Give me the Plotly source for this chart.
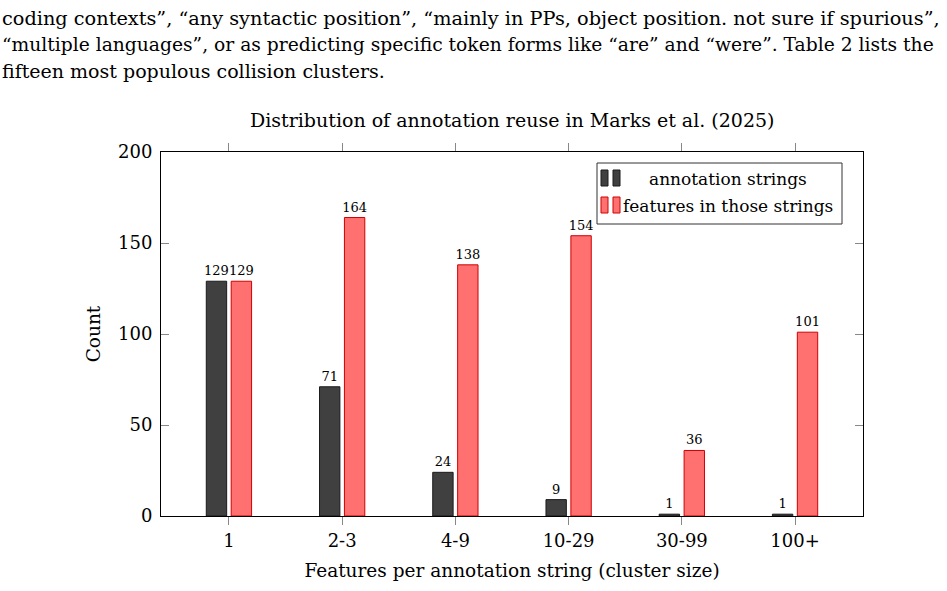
import plotly.graph_objects as go

categories = ["1", "2-3", "4-9", "10-29", "30-99", "100+"]
annotation_strings = [129, 71, 24, 9, 1, 1]
features_in_strings = [129, 164, 138, 154, 36, 101]
y_ticks = [0, 50, 100, 150, 200]

paragraph = [
    "coding contexts\u201d, \u201cany syntactic position\u201d, \u201cmainly in PPs, object position. not sure if spurious\u201d,",
    "\u201cmultiple languages\u201d, or as predicting specific token forms like \u201care\u201d and \u201cwere\u201d. Table 2 lists the",
    "fifteen most populous collision clusters.",
]

W, H = 947, 591
L, R, T, B = 161, 863, 152, 516
FONT = "DejaVu Serif"

def px(x):
    return (x - L) / (R - L)

def py(y):
    return (B - y) / (B - T)

xs = list(range(len(categories)))
dark_fill, dark_line = "#404040", "#1a1a1a"
red_fill, red_line = "#ff7070", "#d00000"

fig = go.Figure()
fig.add_trace(go.Bar(
    x=xs, y=annotation_strings, width=0.18, offset=-0.2,
    marker=dict(color=dark_fill, line=dict(color=dark_line, width=1)),
    text=[str(v) for v in annotation_strings], textposition="outside",
    constraintext="none", cliponaxis=False,
    textfont=dict(family=FONT, size=13, color="black"),
    name="annotation strings", showlegend=False,
))
fig.add_trace(go.Bar(
    x=xs, y=features_in_strings, width=0.18, offset=0.02,
    marker=dict(color=red_fill, line=dict(color=red_line, width=1)),
    text=[str(v) for v in features_in_strings], textposition="outside",
    constraintext="none", cliponaxis=False,
    textfont=dict(family=FONT, size=13, color="black"),
    name="features in those strings", showlegend=False,
))

annotations = []
line_sizes = [19.3, 18.7, 19.0]
for i, line in enumerate(paragraph):
    annotations.append(dict(
        text=line, xref="paper", yref="paper", x=px(0), y=py(18 + i * 26.5),
        xanchor="left", yanchor="middle", showarrow=False,
        font=dict(family=FONT, size=line_sizes[i], color="black"),
    ))
annotations.append(dict(
    text="Distribution of annotation reuse in Marks et al. (2025)",
    xref="paper", yref="paper", x=px(512), y=py(120), xanchor="center",
    yanchor="middle", showarrow=False, font=dict(family=FONT, size=19, color="black"),
))

# custom legend
shapes = [dict(type="rect", xref="paper", yref="paper", x0=px(597), x1=px(842),
               y0=py(224), y1=py(163), line=dict(color="#333", width=1), fillcolor="white")]
legend_rows = [("annotation strings", dark_fill, dark_line, 178),
               ("features in those strings", red_fill, red_line, 205)]
for label, fill, line, yc in legend_rows:
    for x0 in (601, 613):
        shapes.append(dict(type="rect", xref="paper", yref="paper",
                           x0=px(x0), x1=px(x0 + 7), y0=py(yc + 8), y1=py(yc - 8),
                           line=dict(color=line, width=1), fillcolor=fill))
    annotations.append(dict(
        text=label, xref="paper", yref="paper", x=px(728), y=py(yc + 1),
        xanchor="center", yanchor="middle", showarrow=False,
        font=dict(family=FONT, size=17, color="black"),
    ))

fig.update_layout(
    width=W, height=H, margin=dict(l=L, r=W - R, t=T, b=H - B),
    paper_bgcolor="white", plot_bgcolor="white",
    barmode="overlay", showlegend=False,
    font=dict(family=FONT, size=18, color="black"),
    annotations=annotations, shapes=shapes,
    xaxis=dict(
        range=[-0.6, 5.6], tickvals=xs, ticktext=categories,
        showline=True, linecolor="black", linewidth=1, mirror="ticks",
        ticks="outside", ticklen=8, tickcolor="#888", tickwidth=1,
        showgrid=False, zeroline=False,
        title=dict(text="Features per annotation string (cluster size)",
                   font=dict(family=FONT, size=18.5), standoff=14),
        tickfont=dict(family=FONT, size=18),
    ),
    yaxis=dict(
        range=[0, 200], tickvals=y_ticks,
        showline=True, linecolor="black", linewidth=1, mirror="ticks",
        ticks="inside", ticklen=8, tickcolor="#888", tickwidth=1,
        showgrid=False, zeroline=False, ticklabelstandoff=4,
        title=dict(text="Count", font=dict(family=FONT, size=18.5), standoff=12),
        tickfont=dict(family=FONT, size=18),
    ),
)

fig.write_html("out.html")
